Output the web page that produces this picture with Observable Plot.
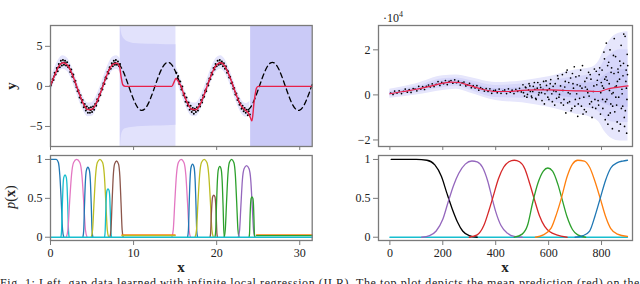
<!DOCTYPE html>
<html><head><meta charset="utf-8">
<script src="https://cdn.jsdelivr.net/npm/d3@7"></script>
<script src="https://cdn.jsdelivr.net/npm/@observablehq/plot@0.6"></script>
<style>
html,body{margin:0;padding:0;background:#fff;}
#root{position:relative;width:640px;height:284px;overflow:hidden;font-family:"Liberation Serif","Times New Roman",serif;color:#222;}
.p{position:absolute;}
.p svg{overflow:visible;font-family:"Liberation Serif","Times New Roman",serif !important;}
.p svg text{font-family:"Liberation Serif","Times New Roman",serif !important;}
.lbl{position:absolute;white-space:nowrap;line-height:1;}
</style></head><body><div id="root"></div>
<script>
// ---------- LEFT TOP: gap data ----------
const trueX = [0,0.5,1,1.5,2,2.5,3,3.5,4,4.5,5,5.5,6,6.5,7,7.5,8,8.5,9,9.5,10,10.5,11,11.5,12,12.5,13,13.5,14,14.5,15,15.5,16,16.5,17,17.5,18,18.5,19,19.5,20,20.5,21,21.5,22,22.5,23,23.5,24,24.5,25,25.5,26,26.5,27,27.5,28,28.5,29,29.5,30,30.5,31,31.5];
const trueY = [0,1.44,2.52,2.99,2.73,1.80,0.42,-1.05,-2.27,-2.93,-2.88,-2.12,-0.84,0.65,1.97,2.81,2.97,2.39,1.24,-0.23,-1.63,-2.64,-3.00,-2.63,-1.61,-0.20,1.26,2.41,2.97,2.81,1.95,0.62,-0.86,-2.14,-2.88,-2.93,-2.25,-1.03,0.45,1.82,2.74,2.99,2.51,1.41,-0.03,-1.46,-2.54,-2.99,-2.72,-1.77,-0.40,1.08,2.29,2.94,2.87,2.10,0.81,-0.67,-1.99,-2.82,-2.96,-2.38,-1.21,0.25];
const meanLX = [0,0.5,1,1.5,2,2.5,3,3.5,4,4.5,5,5.5,6,6.5,7,7.5,8,8.3,8.5,8.7,9,14.6,14.9,15.1,15.4,15.8,16,16.5,17,17.5,18,18.5,19,19.5,20,20.5,21,21.5,22,22.5,23,23.5,23.8,24.1,24.25,24.5,24.8,25,31.5];
const meanLY = [0.1,1.4,2.5,2.95,2.7,1.8,0.45,-1.0,-2.25,-2.9,-2.85,-2.1,-0.85,0.6,1.95,2.75,2.9,2.5,1.2,0.2,0,0,0.6,1.0,0.6,-0.2,-0.85,-2.1,-2.85,-2.9,-2.25,-1.0,0.45,1.8,2.7,2.95,2.5,1.4,0,-1.45,-2.5,-3.0,-3.3,-4.0,-4.3,-2.0,-0.2,0,0];
const gapPtsX = [0.02,0.12,0.25,0.37,0.5,0.62,0.75,0.87,1.0,1.12,1.25,1.37,1.5,1.62,1.75,1.87,2.0,2.12,2.25,2.37,2.5,2.62,2.75,2.87,3.0,3.12,3.25,3.37,3.5,3.62,3.75,3.87,4.0,4.12,4.25,4.37,4.5,4.62,4.75,4.87,5.0,5.12,5.25,5.37,5.5,5.62,5.75,5.87,6.0,6.12,6.25,6.37,6.5,6.62,6.75,6.87,7.0,7.12,7.25,7.37,7.5,7.62,7.75,7.87,8.0,8.12,8.25,8.37,
 15.15,15.25,15.37,15.5,15.62,15.75,15.87,16.0,16.12,16.25,16.37,16.5,16.62,16.75,16.87,17.0,17.12,17.25,17.37,17.5,17.62,17.75,17.87,18.0,18.12,18.25,18.37,18.5,18.62,18.75,18.87,19.0,19.12,19.25,19.37,19.5,19.62,19.75,19.87,20.0,20.12,20.25,20.37,20.5,20.62,20.75,20.87,21.0,21.12,21.25,21.37,21.5,21.62,21.75,21.87,22.0,22.12,22.25,22.37,22.5,22.62,22.75,22.87,23.0,23.12,23.25,23.37,23.5,23.62,23.75,23.87,24.0];
const gapPtsY = [0.1,0.5,0.9,0.8,1.7,1.5,2.3,1.9,2.8,2.4,3.2,2.6,3.3,2.7,3.2,2.6,3.0,2.4,2.6,1.8,2.1,1.2,1.5,0.6,0.7,-0.1,-0.6,-0.5,-1.4,-1.1,-2.0,-1.7,-2.6,-2.2,-3.0,-2.5,-3.3,-2.7,-3.3,-2.6,-3.2,-2.5,-2.9,-2.2,-2.4,-1.6,-1.8,-1.0,-1.1,-0.3,-0.4,0.4,0.3,1.1,1.0,1.8,1.6,2.4,2.2,2.9,2.5,3.2,2.7,3.3,2.7,3.1,2.5,2.8,
 1.7,1.0,1.3,0.3,0.6,-0.4,0.0,-1.1,-0.9,-1.9,-1.4,-2.4,-2.0,-2.9,-2.4,-3.2,-2.7,-3.4,-2.8,-3.2,-2.6,-3.0,-2.2,-2.5,-1.7,-2.0,-1.1,-1.3,-0.5,-0.6,0.3,0.1,1.0,0.9,1.7,1.5,2.3,2.1,2.8,2.5,3.2,2.7,3.3,2.8,3.1,2.5,2.9,2.2,2.5,1.7,1.9,1.1,1.2,0.4,0.5,-0.3,-0.2,-1.0,-0.9,-1.7,-1.5,-2.3,-2.1,-2.8,-2.4,-3.1,-2.7,-3.3,-2.9,-3.6,-3.1,-3.5];
const haloHalf = 0.85;
const gap1X  = [8.4, 8.5, 8.7, 9.0, 9.5, 10, 11, 12.5, 14, 15.1];
const gap1Hi = [8, 7.0, 6.2, 5.8, 5.5, 5.35, 5.3, 5.25, 5.2, 5.2];
const gap1Lo = [-8, -6.5, -5.6, -5.3, -5.15, -5.1, -5.0, -4.95, -4.9, -4.85];
const gapRegions = [[8.4, 15.1], [24.1, 31.5]];

// ---------- LEFT BOTTOM: gating p(x) ----------
const tab = {blue:"#1f77b4",orange:"#ff7f0e",green:"#2ca02c",red:"#d62728",purple:"#9467bd",brown:"#8c564b",pink:"#e377c2",gray:"#7f7f7f",olive:"#bcbd22",cyan:"#17becf",black:"#000000"};
const gatesL = [
 ["blue",  [[0,1],[0.7,1],[0.95,0.96],[1.12,0.8],[1.3,0.45],[1.45,0.1],[1.6,0]]],
 ["cyan",  [[1.25,0],[1.33,0.08],[1.41,0.36],[1.5,0.64],[1.6,0.77],[1.75,0.8],[1.9,0.77],[2.0,0.64],[2.09,0.36],[2.17,0.08],[2.25,0]]],
 ["pink",  [[1.9,0],[2.1,0.1],[2.3,0.45],[2.53,0.8],[2.78,0.96],[3.15,1],[3.53,0.96],[3.78,0.8],[4.0,0.45],[4.2,0.1],[4.4,0]]],
 ["blue",  [[3.9,0],[4.0,0.09],[4.09,0.4],[4.2,0.72],[4.32,0.86],[4.5,0.9],[4.68,0.86],[4.8,0.72],[4.91,0.4],[5.0,0.09],[5.1,0]]],
 ["olive", [[4.9,0],[5.07,0.1],[5.24,0.45],[5.43,0.8],[5.64,0.96],[5.95,1],[6.27,0.96],[6.48,0.8],[6.66,0.45],[6.83,0.1],[7.0,0]]],
 ["cyan",  [[6.5,0],[6.57,0.06],[6.64,0.28],[6.71,0.5],[6.8,0.6],[6.92,0.62],[7.05,0.6],[7.14,0.5],[7.21,0.28],[7.28,0.06],[7.35,0]]],
 ["brown", [[7.15,0],[7.28,0.1],[7.41,0.44],[7.55,0.78],[7.71,0.94],[7.95,0.98],[8.19,0.94],[8.35,0.78],[8.49,0.44],[8.62,0.1],[8.75,0]]],
 ["pink",  [[14.6,0],[14.78,0.1],[14.96,0.45],[15.16,0.8],[15.39,0.96],[15.72,1],[16.06,0.96],[16.29,0.8],[16.49,0.45],[16.67,0.1],[16.85,0]]],
 ["blue",  [[16.5,0],[16.6,0.09],[16.69,0.42],[16.8,0.75],[16.92,0.9],[17.1,0.94],[17.28,0.9],[17.4,0.75],[17.51,0.42],[17.6,0.09],[17.7,0]]],
 ["olive", [[17.4,0],[17.58,0.1],[17.75,0.45],[17.95,0.8],[18.17,0.96],[18.5,1],[18.83,0.96],[19.05,0.8],[19.25,0.45],[19.42,0.1],[19.6,0]]],
 ["brown", [[19.2,0],[19.27,0.05],[19.34,0.24],[19.43,0.43],[19.52,0.52],[19.65,0.54],[19.79,0.52],[19.88,0.43],[19.96,0.24],[20.03,0.05],[20.1,0]]],
 ["green", [[19.8,0],[19.89,0.09],[19.98,0.41],[20.09,0.73],[20.2,0.87],[20.38,0.91],[20.55,0.87],[20.66,0.73],[20.77,0.41],[20.86,0.09],[20.95,0]]],
 ["green", [[20.9,0],[21.04,0.1],[21.19,0.45],[21.35,0.8],[21.53,0.96],[21.8,1],[22.07,0.96],[22.25,0.8],[22.41,0.45],[22.56,0.1],[22.7,0]]],
 ["purple",[[22.6,0],[22.76,0.09],[22.92,0.41],[23.1,0.74],[23.3,0.88],[23.6,0.92],[23.9,0.88],[24.1,0.74],[24.28,0.41],[24.44,0.09],[24.6,0]]],
 ["green", [[23.9,0],[23.96,0.05],[24.01,0.23],[24.08,0.42],[24.15,0.5],[24.25,0.52],[24.36,0.5],[24.43,0.42],[24.49,0.23],[24.54,0.05],[24.6,0]]]
];
const flatL = [["orange",8.6,15.0,0.03],["olive",8.6,15.0,0.02],["orange",24.8,31.5,0.03],["green",24.8,31.5,0.02],["cyan",0,31.5,0]];

// ---------- RIGHT TOP: (·10^4) ----------
const meanRX = [0,50,100,150,200,230,260,300,350,400,450,500,550,600,650,700,750,790,820,850,900];
const meanRY = [0.05,0.15,0.25,0.38,0.52,0.57,0.55,0.42,0.25,0.15,0.15,0.2,0.22,0.22,0.2,0.18,0.17,0.15,0.25,0.32,0.4];
const bandRX  = [0,100,200,250,300,400,500,600,700,760,790,810,840,870,900];
const outerHi = [0.25,0.5,0.85,0.88,0.78,0.55,0.62,0.8,1.1,1.2,1.5,2.0,2.55,2.75,2.8];
const outerLo = [-0.15,0.0,0.2,0.25,0.1,-0.25,-0.35,-0.55,-0.85,-1.0,-1.2,-1.6,-1.95,-2.05,-2.05];
const midHi   = [0.15,0.38,0.72,0.75,0.65,0.42,0.48,0.6,0.8,0.9,1.1,1.5,1.85,2.0,2.0];
const midLo   = [-0.05,0.1,0.32,0.38,0.22,-0.12,-0.15,-0.3,-0.5,-0.6,-0.75,-1.0,-1.2,-1.22,-1.22];
const innerHi = [0.1,0.3,0.62,0.66,0.55,0.28,0.32,0.4,0.5,0.55,0.65,0.85,1.05,1.1,1.15];
const innerLo = [0.0,0.2,0.42,0.48,0.32,0.04,0.05,0.0,-0.15,-0.2,-0.3,-0.4,-0.52,-0.55,-0.55];
const ptsRX = [3,12,18,27,35,44,51,58,66,73,80,88,95,102,109,117,124,131,138,146,153,160,167,175,182,189,196,203,210,217,224,231,238,245,252,259,266,273,280,287,294,301,308,315,322,329,336,343,350,357,364,371,378,385,392,399,406,413,420,427,434,441,448,455,462,469,476,483,490,497,
 503,509,514,520,526,531,537,542,548,553,559,564,570,575,581,586,592,597,603,608,614,619,625,630,636,641,647,
 505,512,518,524,529,535,540,546,551,557,562,568,573,579,584,590,595,601,606,612,617,623,628,634,639,645,
 652,656,661,665,670,674,679,683,688,692,697,701,706,710,715,719,724,728,733,737,742,746,751,755,760,764,769,773,778,782,787,791,796,799,
 654,663,672,681,690,699,708,717,726,735,744,753,762,771,780,789,797,
 658,667,676,685,694,703,712,721,730,739,748,757,766,775,784,793,
 802,805,808,811,814,817,820,823,826,829,832,835,838,841,844,847,850,853,856,859,862,865,868,871,874,877,880,883,886,889,892,895,897,
 803,809,815,821,827,833,839,845,851,857,863,869,875,881,887,893,896,898,
 804,812,818,824,830,836,842,848,854,860,866,872,878,884,890,894,899];
const ptsRY = [0.08,0.02,0.17,0.08,0.18,0.06,0.16,0.26,0.12,0.24,0.11,0.28,0.26,0.18,0.38,0.26,0.37,0.24,0.38,0.44,0.35,0.49,0.37,0.47,0.59,0.42,0.56,0.50,0.64,0.46,0.60,0.64,0.52,0.67,0.54,0.61,0.44,0.54,0.57,0.40,0.45,0.51,0.32,0.41,0.31,0.41,0.21,0.32,0.27,0.17,0.28,0.16,0.27,0.07,0.19,0.21,0.10,0.26,0.07,0.17,0.22,0.06,0.27,0.12,0.21,0.06,0.25,0.16,0.29,0.13,
 0.45,-0.05,0.32,0.02,0.5,0.15,-0.12,0.38,0.25,-0.2,0.55,0.1,0.33,-0.25,0.6,0.05,0.42,-0.1,0.28,0.68,-0.3,0.18,0.5,-0.15,0.72,0.02,-0.35,
 0.1,0.35,-0.1,0.22,0.4,-0.05,0.15,0.55,-0.15,0.3,0.0,0.45,0.1,0.25,-0.4,0.62,0.2,-0.2,0.5,0.05,0.38,-0.45,0.15,0.85,-0.1,0.4,
 0.9,-0.45,0.35,-0.8,1.1,0.1,-0.3,0.75,-0.6,0.5,1.25,-0.2,0.05,-0.95,0.85,0.4,-0.5,1.3,-0.1,0.6,-0.75,0.25,1.0,-0.4,0.7,-1.0,0.15,1.15,-0.6,0.45,-0.25,0.9,-0.85,0.55,
 0.2,0.6,-0.35,0.05,0.95,-0.5,0.45,-0.15,0.3,-0.65,0.75,-0.05,-0.3,0.4,1.05,-0.45,0.1,
 -0.2,1.0,0.55,-0.7,0.3,0.8,-0.4,1.1,-0.85,0.35,0.1,0.9,-0.55,-0.2,0.65,1.2,
 1.1,-0.6,0.3,1.6,-1.1,0.8,-0.2,1.3,-0.9,0.5,2.0,-0.4,1.2,-1.5,0.1,0.95,-0.75,1.7,0.4,-1.2,1.15,-0.1,0.7,-1.3,2.2,0.25,-0.5,1.4,-1.0,2.6,0.6,-1.7,1.8,
 0.4,1.9,-0.3,0.65,1.45,-0.8,0.05,1.75,0.35,-0.45,1.0,1.5,-0.6,0.85,-1.4,1.1,-0.2,0.9,
 -0.2,0.7,2.3,-1.3,0.2,1.0,-0.5,2.5,-0.1,0.6,-1.6,1.3,0.05,2.7,-0.7,0.3,1.3];

// ---------- RIGHT BOTTOM: gating p(x) ----------
const gatesR = [
 ["cyan",  [[0,0],[898,0]]],
 ["black", [[5,1],[100,1],[140,0.99],[170,0.93],[195,0.78],[215,0.57],[235,0.37],[255,0.2],[275,0.08],[300,0.02],[330,0]]],
 ["purple",[[120,0],[150,0.02],[175,0.08],[200,0.23],[220,0.45],[240,0.66],[260,0.82],[285,0.94],[310,0.98],[330,0.97],[350,0.9],[370,0.72],[385,0.52],[400,0.33],[420,0.15],[445,0.05],[470,0.01],[500,0]]],
 ["red",   [[300,0],[330,0.03],[355,0.15],[375,0.35],[390,0.52],[410,0.75],[430,0.9],[450,0.97],[470,0.99],[490,0.97],[510,0.88],[525,0.73],[545,0.5],[565,0.28],[585,0.14],[605,0.07],[630,0.03],[670,0]]],
 ["green", [[470,0],[500,0.04],[520,0.15],[540,0.45],[560,0.7],[580,0.85],[597,0.89],[615,0.85],[635,0.68],[650,0.5],[670,0.26],[690,0.1],[710,0.03],[740,0]]],
 ["orange",[[550,0],[580,0.03],[610,0.12],[630,0.3],[648,0.5],[670,0.78],[690,0.94],[710,0.99],[735,0.98],[755,0.9],[775,0.72],[795,0.5],[815,0.27],[835,0.11],[860,0.04],[898,0.01]]],
 ["blue",  [[700,0],[730,0.02],[755,0.08],[775,0.27],[795,0.5],[815,0.73],[835,0.89],[860,0.96],[880,0.98],[898,0.99]]]
];

// ---------- tick labels ----------
const ticksTopLY = [-5, 0, 5];
const ticksLX = [0, 10, 20, 30];
const ticksTopRY = [-2, 0, 2];
const ticksRX = [0, 200, 400, 600, 800];
const ticksP = [0, 0.5, 1];
const captionText = "Fig. 1: Left, gap data learned with infinite local regression (ILR). The top plot depicts the mean prediction (red) on the";

// ================= drawing =================
const FONT = "Liberation Serif, Times New Roman, serif";
const root = document.getElementById("root");
const fmt = d => d < 0 ? "\u2212" + Math.abs(d) : String(d);
const RED = "#e8204a";
const FRAME = "#7a7a7a";
const style = {fontFamily: FONT, fontSize: "12px", overflow: "visible", background: "transparent", color: "#222"};
function place(el, left, top) {
  const d = document.createElement("div");
  d.className = "p"; d.style.left = left + "px"; d.style.top = top + "px";
  d.appendChild(el); root.appendChild(d);
}
function label(html, cx, cy, size, rotate, extra) {
  const d = document.createElement("div");
  d.className = "lbl"; d.innerHTML = html;
  d.style.fontSize = size + "px";
  d.style.left = cx + "px"; d.style.top = cy + "px";
  d.style.transform = "translate(-50%,-50%)" + (rotate ? " rotate(-90deg)" : "");
  if (extra) Object.assign(d.style, extra);
  root.appendChild(d);
}
const yAxis = (ticks) => Plot.axisY({ticks, tickSize: 5, tickPadding: 3, tickFormat: fmt, stroke: FRAME, fill: "#222", label: null});
const xAxisBlank = (ticks) => Plot.axisX({ticks, tickSize: 4, tickFormat: () => "", stroke: FRAME, label: null});
const xAxis = (ticks) => Plot.axisX({ticks, tickSize: 5, tickPadding: 3, tickFormat: fmt, stroke: FRAME, fill: "#222", label: null});

// Left top
const truth = trueX.map((x, i) => ({x, y: trueY[i]}));
const meanL = meanLX.map((x, i) => ({x, y: meanLY[i]}));
const halo = truth.filter(d => d.x <= 8.5 || (d.x >= 15 && d.x <= 24)).map(d => ({x: d.x, lo: d.y - haloHalf, hi: d.y + haloHalf, seg: d.x < 12 ? 1 : 2}));
const gap1 = gap1X.map((x, i) => ({x, lo: gap1Lo[i], hi: gap1Hi[i]}));
const regions = gapRegions.map(([a, b], i) => ({x1: a, x2: b, i}));
const ptsL = gapPtsX.map((x, i) => ({x, y: gapPtsY[i]}));
place(Plot.plot({
  width: 320, height: 150, marginLeft: 50, marginRight: 8.3, marginTop: 25, marginBottom: 4,
  x: {domain: [0, 31.5]}, y: {domain: [-7.5, 7.6]}, style,
  marks: [
    Plot.areaY(halo, {x: "x", y1: "lo", y2: "hi", z: "seg", fill: "#e4e4fc", curve: "monotone-x"}),
    Plot.rect(regions, {x1: "x1", x2: "x2", y1: -7.5, y2: 7.6, fill: "#e2e2fc"}),
    Plot.areaY(gap1, {x: "x", y1: "lo", y2: "hi", fill: "#d0d0f9", curve: "monotone-x", clip: true}),
    Plot.rect(regions.filter(d => d.i === 1), {x1: "x1", x2: "x2", y1: -7.5, y2: 7.6, fill: "#cacaf7"}),
    Plot.line(truth, {x: "x", y: "y", stroke: "black", strokeWidth: 1.3, strokeDasharray: "5,3.5", curve: "natural"}),
    Plot.dot(ptsL, {x: "x", y: "y", r: 1.0, fill: "black", stroke: "none"}),
    Plot.line(meanL, {x: "x", y: "y", stroke: RED, strokeWidth: 1.4, curve: "monotone-x"}),
    Plot.frame({stroke: FRAME, strokeWidth: 1.3}),
    yAxis(ticksTopLY),
    xAxisBlank(ticksLX)
  ]
}), 0, 0);

// Left bottom
const gateLData = gatesL.flatMap(([c, pts], k) => pts.map(([x, y]) => ({x, y, k, c: tab[c]})));
const flatLData = flatL.flatMap(([c, a, b, y], k) => [{x: a, y, k, c: tab[c]}, {x: b, y, k, c: tab[c]}]);
place(Plot.plot({
  width: 320, height: 110, marginLeft: 50, marginRight: 8.3, marginTop: 5, marginBottom: 20,
  x: {domain: [0, 31.5]}, y: {domain: [-0.042, 1.051]}, style,
  marks: [
    Plot.line(gateLData, {x: "x", y: "y", z: "k", stroke: "c", strokeWidth: 1.3, curve: "monotone-x"}),
    Plot.line(flatLData, {x: "x", y: "y", z: "k", stroke: "c", strokeWidth: 1.3}),
    Plot.frame({stroke: FRAME, strokeWidth: 1.3}),
    yAxis(ticksP),
    xAxis(ticksLX)
  ]
}), 0, 150);

// Right top
const bandR = bandRX.map((x, i) => ({x, o1: outerLo[i], o2: outerHi[i], m1: midLo[i], m2: midHi[i], i1: innerLo[i], i2: innerHi[i]}));
const ptsR = ptsRX.map((x, i) => ({x, y: ptsRY[i]}));
const meanR = meanRX.map((x, i) => ({x, y: meanRY[i]}));
place(Plot.plot({
  width: 320, height: 150, marginLeft: 58, marginRight: 8, marginTop: 25, marginBottom: 4,
  x: {domain: [-43, 917]}, y: {domain: [-2.29, 3.08]}, style,
  marks: [
    Plot.areaY(bandR, {x: "x", y1: "o1", y2: "o2", fill: "#e6e6fc", curve: "monotone-x"}),
    Plot.areaY(bandR, {x: "x", y1: "m1", y2: "m2", fill: "#d7d7fa", curve: "monotone-x"}),
    Plot.areaY(bandR, {x: "x", y1: "i1", y2: "i2", fill: "#c9c9f6", curve: "monotone-x"}),
    Plot.dot(ptsR, {x: "x", y: "y", r: 0.85, fill: "black", stroke: "none"}),
    Plot.line(meanR, {x: "x", y: "y", stroke: RED, strokeWidth: 1.2, curve: "monotone-x"}),
    Plot.frame({stroke: FRAME, strokeWidth: 1.3}),
    yAxis(ticksTopRY),
    xAxisBlank(ticksRX)
  ]
}), 320, 0);

// Right bottom
const gateRData = gatesR.flatMap(([c, pts], k) => pts.map(([x, y]) => ({x, y, k, c: tab[c]})));
place(Plot.plot({
  width: 320, height: 110, marginLeft: 58, marginRight: 8, marginTop: 5, marginBottom: 20,
  x: {domain: [-43, 917]}, y: {domain: [-0.042, 1.051]}, style,
  marks: [
    Plot.line(gateRData, {x: "x", y: "y", z: "k", stroke: "c", strokeWidth: 1.3, curve: "monotone-x"}),
    Plot.frame({stroke: FRAME, strokeWidth: 1.3}),
    yAxis(ticksP),
    xAxis(ticksRX)
  ]
}), 320, 150);

// Labels
label("<b>y</b>", 11, 86, 15, true);
label("<i>p</i>(<b>x</b>)", 11, 197, 14, true);
label("<b>x</b>", 181, 267, 15, false);
label("<b>x</b>", 505, 267, 15, false);
label("\u00b710<sup style='font-size:8px;vertical-align:5px'>4</sup>", 393, 17, 12, false);
const cap = document.createElement("div");
cap.className = "lbl";
cap.textContent = captionText;
Object.assign(cap.style, {left: "0px", top: "277px", fontSize: "12px"});
root.appendChild(cap);
const w = cap.getBoundingClientRect().width;
cap.style.letterSpacing = ((640 - w) / captionText.length) + "px";
</script></body></html>
